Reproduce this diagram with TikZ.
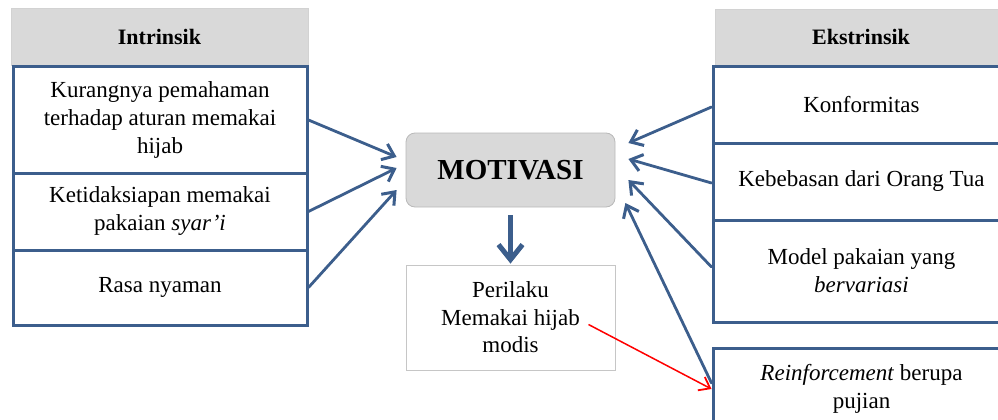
\documentclass[tikz,border=0pt]{standalone}
\usepackage{fontspec}
\setmainfont{Liberation Serif}
\usetikzlibrary{arrows.meta,calc}
\definecolor{bblue}{RGB}{60,94,140}
\definecolor{hgray}{RGB}{217,217,217}
\begin{document}
\begin{tikzpicture}[x=1pt,y=-1pt,
  every node/.style={inner sep=0pt, align=center, font=\fontsize{23}{28}\selectfont},
  hdr/.style={fill=hgray, draw=gray!35, line width=0.6pt, font=\fontsize{22}{26}\selectfont\bfseries},
  ibox/.style={draw=bblue, line width=3pt, fill=white},
  motbox/.style={fill=hgray, draw=gray!55, line width=0.8pt, rounded corners=9pt, font=\fontsize{29}{34}\selectfont\bfseries},
  perbox/.style={draw=gray!45, line width=0.8pt, fill=white, font=\fontsize{23}{27.5}\selectfont},
  arr/.style={draw=bblue, line width=2.8pt, line cap=round, -{Straight Barb[length=11pt,width=17pt,line width=3pt]}},
  downarr/.style={draw=bblue, line width=5pt, -{Straight Barb[length=15pt,width=24pt,line width=5pt]}},
  redarr/.style={draw=red, line width=1.5pt, -{Straight Barb[length=10pt,width=15pt,line width=1.8pt]}}]
\useasboundingbox (0,0) rectangle (998,420);
\clip (0,0) rectangle (998,420);

% left column
\node[hdr, minimum width=297pt, minimum height=57pt] (lh) at (159.5,36.5) {Intrinsik};
\node[ibox, minimum width=294pt, minimum height=106pt] (l1) at (160,120) {Kurangnya pemahaman\\terhadap aturan memakai\\hijab};
\node[ibox, minimum width=294pt, minimum height=77pt] (l2) at (160,211.5) {Ketidaksiapan memakai\\pakaian \textit{syar’i}};
\node[ibox, minimum width=294pt, minimum height=75pt] (l3) at (160,287.5) {Rasa nyaman};

% right column
\node[hdr, minimum width=292pt, minimum height=56pt] (rh) at (861,37) {Ekstrinsik};
\node[ibox, minimum width=297pt, minimum height=76pt] (r1) at (861.5,105) {Konformitas};
\node[ibox, minimum width=297pt, minimum height=77pt] (r2) at (861.5,181.5) {Kebebasan dari Orang Tua};
\node[ibox, minimum width=297pt, minimum height=102pt] (r3) at (861.5,271) {Model pakaian yang\\\textit{bervariasi}};
\node[ibox, minimum width=297pt, minimum height=82pt] (r4) at (861.5,389) {\textit{Reinforcement} berupa\\pujian};

% centre
\node[motbox, minimum width=209pt, minimum height=74pt] (mot) at (510.5,170) {MOTIVASI};
\node[perbox, minimum width=209pt, minimum height=105pt] (per) at (510.5,317.5) {Perilaku\\Memakai hijab\\modis};

% connectors
\draw[arr] (l1.east) -- ($(mot.west)+(-9,-13)$);
\draw[arr] (l2.east) -- ($(mot.west)+(-9,-2)$);
\draw[arr] (l3.east) -- ($(mot.west)+(-9,20)$);

\draw[arr] ($(r1.west)+(0,2)$) -- ($(mot.east)+(13,-27)$);
\draw[arr] ($(r2.west)+(0,1.5)$) -- ($(mot.east)+(13,-11)$);
\draw[arr] ($(r3.west)+(0,-4)$) -- ($(mot.east)+(13,10)$);
\draw[arr] ($(r4.west)+(0,-6)$) -- ($(mot.east)+(10,33)$);

\draw[downarr] ($(mot.south)+(0,8)$) -- ($(per.north)+(0,-1)$);
\draw[redarr] ($(per.center)+(78,7)$) -- (r4.west);
\end{tikzpicture}
\end{document}
